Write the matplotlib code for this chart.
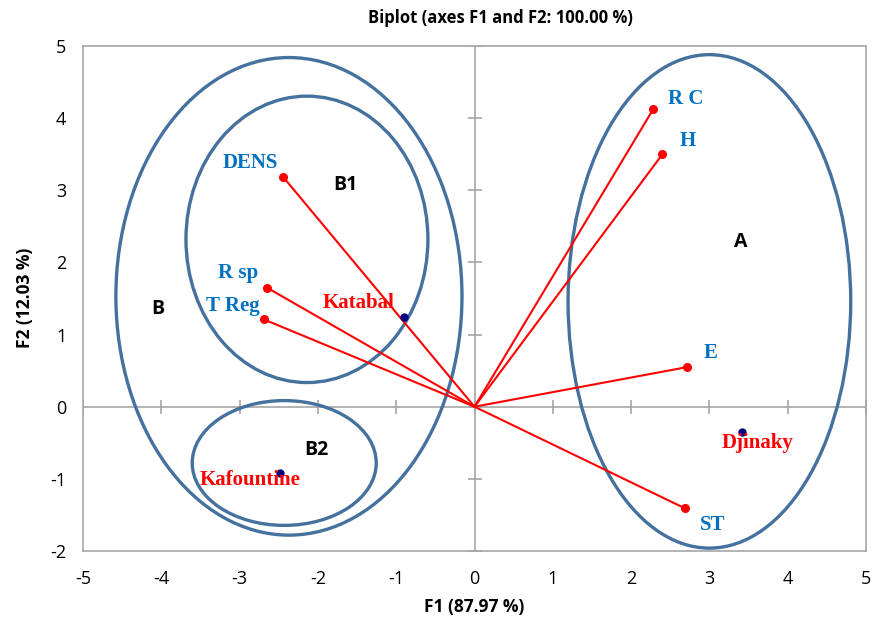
import matplotlib
matplotlib.use("Agg")
import matplotlib.pyplot as plt
from matplotlib.patches import Ellipse

plt.rcParams["axes.unicode_minus"] = False

# Variables (loadings)
var_names = ["R C", "H", "E", "ST", "DENS", "R sp", "T Reg"]
var_x = [2.28, 2.40, 2.72, 2.69, -2.44, -2.65, -2.69]
var_y = [4.12, 3.50, 0.55, -1.41, 3.18, 1.65, 1.21]
var_lx = [2.70, 2.72, 3.02, 3.04, -2.86, -3.02, -3.09]
var_ly = [4.27, 3.69, 0.75, -1.64, 3.38, 1.86, 1.40]

# Observations
obs_names = ["Katabal", "Djinaky", "Kafountine"]
obs_x = [-0.90, 3.41, -2.48]
obs_y = [1.25, -0.35, -0.92]
obs_lx = [-1.48, 3.62, -2.86]
obs_ly = [1.44, -0.50, -1.01]

# Group ellipses
groups = ["A", "B", "B1", "B2"]
grp_cx = [3.00, -2.37, -2.14, -2.43]
grp_cy = [1.46, 1.53, 2.32, -0.78]
grp_w = [3.61, 4.42, 3.09, 2.35]
grp_h = [6.84, 6.62, 3.97, 1.73]
grp_lx = [3.40, -4.04, -1.65, -2.02]
grp_ly = [2.29, 1.35, 3.07, -0.60]

xticks = [-5, -4, -3, -2, -1, 0, 1, 2, 3, 4, 5]
yticks = [-2, -1, 0, 1, 2, 3, 4, 5]

fig = plt.figure(figsize=(8.8, 6.22), dpi=100)
ax = fig.add_axes([83/880, 1-551/622, (866-83)/880, (551-46)/622])
ax.set_xlim(-5, 5)
ax.set_ylim(-2, 5)

grey = "#A6A6A6"
for s in ax.spines.values():
    s.set_color(grey)
    s.set_linewidth(1.2)

ax.axhline(0, color=grey, lw=1.2, zorder=1)
ax.axvline(0, color=grey, lw=1.2, zorder=1)
ax.plot(xticks, [0]*len(xticks), ls="none", marker="|", ms=10, mew=1.2, color=grey, zorder=1)
ax.plot([0]*len(yticks), yticks, ls="none", marker="_", ms=10, mew=1.2, color=grey, zorder=1)

ax.set_xticks(xticks)
ax.set_yticks(yticks)
ax.tick_params(length=0, labelsize=13, pad=14, colors="#000000")
ax.tick_params(axis="y", pad=12)
for lab in ax.get_xticklabels() + ax.get_yticklabels():
    lab.set_family("Open Sans")

ellcol = "#44719D"
for cx, cy, w, h in zip(grp_cx, grp_cy, grp_w, grp_h):
    ax.add_patch(Ellipse((cx, cy), w, h, fill=False, ec=ellcol, lw=2.4, zorder=2))
for g, lx, ly in zip(groups, grp_lx, grp_ly):
    ax.text(lx, ly, g, ha="center", va="center", fontsize=14, fontweight="bold",
            family="Open Sans", color="black", zorder=5)

red = "#FF0000"
for x, y in zip(var_x, var_y):
    ax.plot([0, x], [0, y], color=red, lw=1.5, zorder=3)
ax.plot(var_x, var_y, ls="none", marker="o", ms=5.5, color=red, zorder=4)
blue = "#0070C0"
for n, lx, ly in zip(var_names, var_lx, var_ly):
    ax.text(lx, ly, n, ha="center", va="center", fontsize=15, fontweight="bold",
            family="Liberation Serif", color=blue, zorder=5)

ax.plot(obs_x, obs_y, ls="none", marker="o", ms=5, color="#000080", zorder=4)
for n, lx, ly in zip(obs_names, obs_lx, obs_ly):
    ax.text(lx, ly, n, ha="center", va="center", fontsize=15, fontweight="bold",
            family="Liberation Serif", color=red, zorder=5)

fig.text(500/880, 1-18/622, "Biplot (axes F1 and F2: 100.00 %)", ha="center", va="center",
         fontsize=12, fontweight="bold", family="Open Sans")
fig.text(474/880, 1-607/622, "F1 (87.97 %)", ha="center", va="center",
         fontsize=12.5, fontweight="bold", family="Open Sans")
fig.text(25/880, 1-298/622, "F2 (12.03 %)", ha="center", va="center", rotation=90,
         fontsize=12.5, fontweight="bold", family="Open Sans")

fig.savefig("out.png", dpi=100)
